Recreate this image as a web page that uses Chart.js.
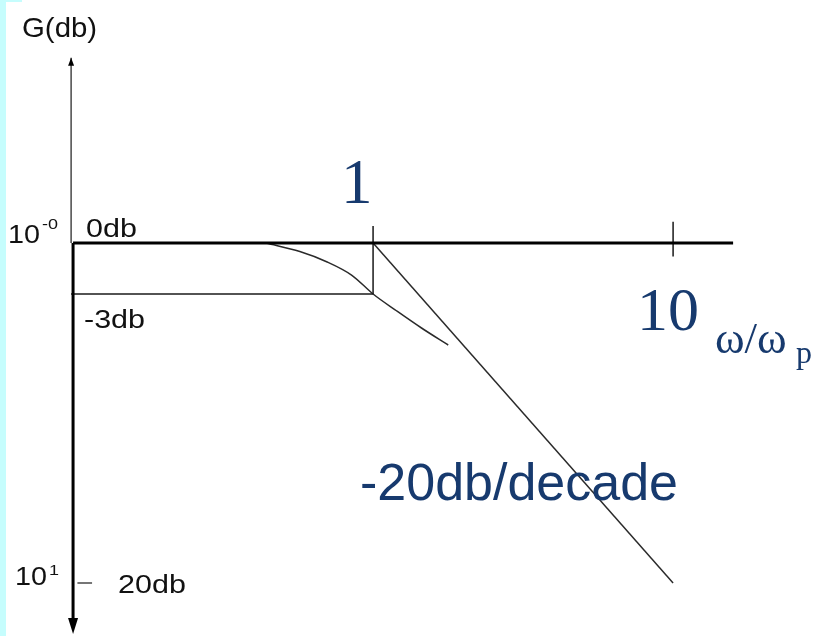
<!DOCTYPE html>
<html>
<head>
<meta charset="utf-8">
<script src="https://cdn.jsdelivr.net/npm/chart.js@4.4.1/dist/chart.umd.min.js"></script>
<style>
  html,body{margin:0;padding:0;background:#fff;}
  #wrap{position:relative;width:821px;height:636px;}
  #strip{position:absolute;left:0;top:0;width:6px;height:636px;background:#c6fdfd;}
  #strip2{position:absolute;left:0;top:0;width:22px;height:2px;background:#c6fdfd;}
  canvas{position:absolute;left:0;top:0;}
</style>
</head>
<body>
<div id="wrap">
  <div id="strip"></div><div id="strip2"></div>
  <canvas id="bode" width="821" height="636"></canvas>
</div>
<script>
// ── BODE MAGNITUDE SKETCH ───────────────────────────────────────────────────
// frequency in w/wp (log axis), gain in dB (linear axis)
const CURVE_W    = [0.44, 0.57, 0.7, 0.85, 1, 1.2, 1.45, 1.78];
const CURVE_DB   = [0, -0.5, -1.1, -1.9, -3, -4.0, -5.0, -6.0];
const ASYM_W     = [1, 10];
const ASYM_DB    = [0, -20];
const ZERO_W     = [0.1, 15.85];
const CORNER_DB  = -3;
const DECADES    = [1, 10];
const TICK_TOP   = [1.0, 1.25];
const TICK_BOT   = [-3, -0.8];
const AXIS_W     = 0.1;
const THIN_AXIS_W = 0.0985;
const Y_TOP_DB   = 10.9;
const Y_BOT_DB   = -23;
const MARK_20_W  = [0.1034, 0.1157];
const MARK_20_DB = -20;

const NAVY = '#173a6e';
const INK = '#1a1a1a';
const sans = '"Liberation Sans", Arial, sans-serif';
const serif = '"Liberation Serif", "Times New Roman", serif';

const pts = (xs, ys) => xs.map((x,i) => ({x, y: ys[i]}));
const seg = (data, width, color) => ({data, borderColor: color||INK, borderWidth: width, pointRadius: 0, showLine: true, fill: false, clip: false});

const datasets = [
  // y axis: thin part above 0 dB, heavy part below
  seg([{x:THIN_AXIS_W, y:0}, {x:THIN_AXIS_W, y:Y_TOP_DB}], 1.2),
  seg([{x:AXIS_W, y:0}, {x:AXIS_W, y:Y_BOT_DB + 0.6}], 3, '#000'),
  // 0 dB line
  seg(pts(ZERO_W, [0, 0]), 3, '#000'),
  // -3 dB guide and the corner tick
  seg([{x:THIN_AXIS_W, y:CORNER_DB}, {x:DECADES[0], y:CORNER_DB}], 1.5),
  ...DECADES.map((w,i) => seg([{x:w, y:TICK_TOP[i]}, {x:w, y:TICK_BOT[i]}], 1.5)),
  // asymptote and real response
  seg(pts(ASYM_W, ASYM_DB), 1.5, '#2a2a2a'),
  Object.assign(seg(pts(CURVE_W, CURVE_DB), 1.5, '#2a2a2a'), {cubicInterpolationMode: 'monotone'}),
  // small tick at 20 dB
  seg(pts(MARK_20_W, [MARK_20_DB, MARK_20_DB]), 1.2),
];

function text(ctx, str, x, y, font, color, sx) {
  ctx.save();
  ctx.font = font;
  ctx.fillStyle = color;
  ctx.textBaseline = 'alphabetic';
  ctx.translate(x, y);
  ctx.scale(sx || 1, 1);
  ctx.fillText(str, 0, 0);
  ctx.restore();
}

function arrow(ctx, x, y, w, h, dir) {
  ctx.beginPath();
  ctx.moveTo(x, y);
  ctx.lineTo(x - w/2, y - dir*h);
  ctx.lineTo(x + w/2, y - dir*h);
  ctx.closePath();
  ctx.fillStyle = '#000';
  ctx.fill();
}

const labels = {
  id: 'labels',
  afterDatasetsDraw(chart) {
    const {ctx, scales:{x, y}} = chart;
    // axis arrowheads
    arrow(ctx, x.getPixelForValue(THIN_AXIS_W), y.getPixelForValue(Y_TOP_DB), 6, 8, -1);
    arrow(ctx, x.getPixelForValue(AXIS_W), y.getPixelForValue(Y_BOT_DB), 10, 16, 1);

    const small = '25px ' + sans;
    const sup = '15px ' + sans;
    text(ctx, 'G(db)', 22, 37, '28px ' + sans, '#111', 1.05);
    text(ctx, '10', 8, y.getPixelForValue(0), small, '#111', 1.15);
    text(ctx, '-0', 42, y.getPixelForValue(0) - 14, sup, '#111', 1.2);
    text(ctx, '0db', 86, y.getPixelForValue(0) - 6, small, '#111', 1.22);
    text(ctx, '-3db', 84, 328, small, '#111', 1.22);
    text(ctx, '10', 15, y.getPixelForValue(MARK_20_DB) + 2, small, '#111', 1.15);
    text(ctx, '1', 49, y.getPixelForValue(MARK_20_DB) - 8, sup, '#111', 1.2);
    text(ctx, '20db', 118, y.getPixelForValue(MARK_20_DB) + 10, small, '#111', 1.22);

    // decade labels
    text(ctx, '1', x.getPixelForValue(DECADES[0]) - 32, 203, '63px ' + serif, NAVY);
    text(ctx, '10', 637, 330, '62px ' + serif, NAVY);
    text(ctx, 'ω/ω', 715, 353, '45px ' + serif, NAVY);
    text(ctx, 'p', 796, 363, '32px ' + serif, NAVY);
    text(ctx, '-20db/decade', 360, 500, '52px ' + sans, NAVY);
  }
};

new Chart(document.getElementById('bode'), {
  type: 'scatter',
  data: {datasets},
  options: {
    responsive: false, animation: false, devicePixelRatio: 1,
    layout: {padding: {left: 6.5, right: 57.6, top: 56, bottom: 2}},
    plugins: {legend: {display: false}, tooltip: {enabled: false}},
    scales: {
      x: {type: 'logarithmic', min: 0.06, max: 20, display: false},
      y: {type: 'linear', min: -23, max: 11, display: false}
    }
  },
  plugins: [labels]
});
</script>
</body>
</html>
